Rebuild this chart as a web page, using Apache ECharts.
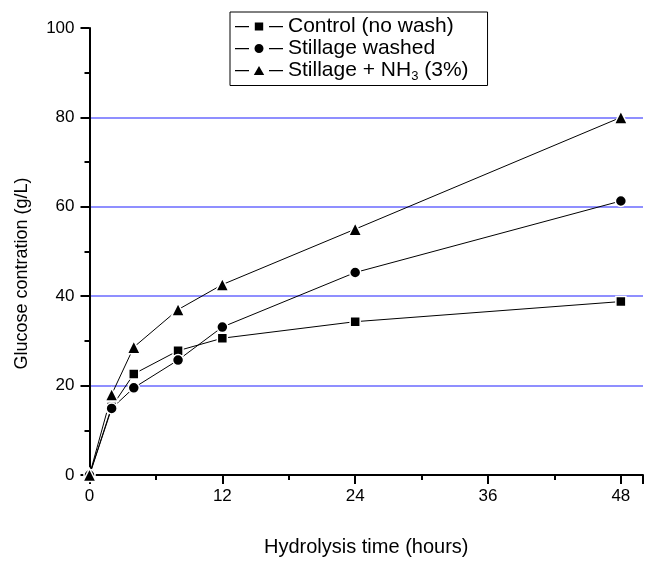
<!DOCTYPE html>
<html>
<head>
<meta charset="utf-8">
<script src="https://cdn.jsdelivr.net/npm/echarts@6/dist/echarts.min.js"></script>
<style>
  html, body { margin: 0; padding: 0; background: #fff; }
  #chart { width: 646px; height: 562px; }
</style>
</head>
<body>
<div id="chart"></div>
<script>
// Hydrolysis time points (hours)
var hours = [0, 2, 4, 8, 12, 24, 48];

// Glucose concentration (g/L) for each treatment
var controlNoWash = [0, 15.2, 22.6, 27.8, 30.6, 34.3, 38.8];
var stillageWashed = [0, 14.9, 19.5, 25.7, 33.1, 45.3, 61.3];
var stillageNH3 = [0, 18.0, 28.6, 37.0, 42.6, 55.0, 80.0];

var seriesNames = ['Control (no wash)', 'Stillage washed', 'Stillage + NH{sub|3} (3%)'];
var seriesSymbols = ['rect', 'circle', 'triangle'];
var seriesValues = [controlNoWash, stillageWashed, stillageNH3];

// Labelled tick values on each axis
var yTicks = [0, 20, 40, 60, 80, 100];
var xTicks = [0, 12, 24, 36, 48];

var FONT = '"Liberation Sans", Arial, sans-serif';

function pairs(values) {
  return hours.map(function (h, i) { return [h, values[i]]; });
}

// Legend keys "—■—", "—●—", "—▲—" drawn in a 48 x 9 box
var DASHES = 'M0 4 L14 4 L14 5.2 L0 5.2 Z M34 4 L48 4 L48 5.2 L34 5.2 Z ';
var legendIcons = [
  'path://' + DASHES + 'M19.8 0.4 L28.2 0.4 L28.2 8.6 L19.8 8.6 Z',
  'path://' + DASHES + 'M19.5 4.5 A4.5 4.5 0 1 0 28.5 4.5 A4.5 4.5 0 1 0 19.5 4.5 Z',
  'path://' + DASHES + 'M24 0 L29.2 9 L18.8 9 Z'
];

var symbolSizes = [10, 11, 13];

var series = seriesValues.map(function (vals, k) {
  return {
    name: seriesNames[k],
    type: 'line',
    data: pairs(vals),
    symbol: seriesSymbols[k],
    symbolSize: symbolSizes[k],
    showAllSymbol: true,
    lineStyle: { color: '#000', width: 1 },
    itemStyle: { color: '#000', borderColor: '#fff', borderWidth: 1.5 },
    emphasis: { disabled: true },
    animation: false,
    z: 3
  };
});

var chart = echarts.init(document.getElementById('chart'), null, { renderer: 'canvas' });

chart.setOption({
  backgroundColor: '#fff',
  animation: false,
  textStyle: { fontFamily: FONT },
  // x runs a little past 48 h, so the plot is wider than the window
  grid: { left: 89.5, top: 28, width: 565, height: 455, containLabel: false },
  legend: {
    orient: 'vertical',
    left: 230,
    top: 12,
    itemWidth: 48,
    itemHeight: 9,
    itemGap: 1,
    padding: [4, 19, 3, 5],
    borderColor: '#000',
    borderWidth: 1,
    backgroundColor: '#fff',
    itemStyle: { color: '#000', borderWidth: 0 },
    data: seriesNames.map(function (n, i) { return { name: n, icon: legendIcons[i] }; }),
    textStyle: {
      fontFamily: FONT,
      fontSize: 21,
      color: '#000',
      padding: [0, 0, 0, 0],
      rich: {
        sub: { fontFamily: FONT, fontSize: 13, color: '#000', padding: [11, 0, 0, 0] }
      }
    }
  },
  xAxis: {
    type: 'value',
    min: 0,
    max: 50,
    interval: 12,
    name: 'Hydrolysis time (hours)',
    nameLocation: 'middle',
    nameGap: 62,
    nameTextStyle: { fontFamily: FONT, fontSize: 20, color: '#000' },
    axisLine: { show: true, onZero: false, lineStyle: { color: '#000', width: 2 } },
    axisTick: { show: true, inside: false, length: 9, lineStyle: { color: '#000', width: 2 } },
    minorTick: { show: true, splitNumber: 2, length: 5, lineStyle: { color: '#000', width: 2 } },
    axisLabel: {
      fontFamily: FONT, fontSize: 17, color: '#000', margin: 13,
      formatter: function (v) { return xTicks.indexOf(v) >= 0 ? String(v) : ''; }
    },
    splitLine: { show: false }
  },
  yAxis: {
    type: 'value',
    min: 0,
    max: 100,
    interval: 20,
    name: 'Glucose contration (g/L)',
    nameLocation: 'middle',
    nameGap: 58,
    nameTextStyle: { fontFamily: FONT, fontSize: 18, color: '#000', padding: [0, 44, 0, 0] },
    axisLine: { show: true, onZero: false, lineStyle: { color: '#000', width: 2 } },
    axisTick: { show: true, inside: false, length: 9, lineStyle: { color: '#000', width: 2 } },
    minorTick: { show: true, splitNumber: 2, length: 5, lineStyle: { color: '#000', width: 2 } },
    axisLabel: {
      fontFamily: FONT, fontSize: 17, color: '#000', margin: 15,
      formatter: function (v) { return yTicks.indexOf(v) >= 0 ? String(v) : ''; }
    },
    splitLine: {
      show: true,
      showMinLine: false,
      showMaxLine: false,
      lineStyle: { color: '#6a6aff', width: 1.5 }
    }
  },
  series: series
});
</script>
</body>
</html>
